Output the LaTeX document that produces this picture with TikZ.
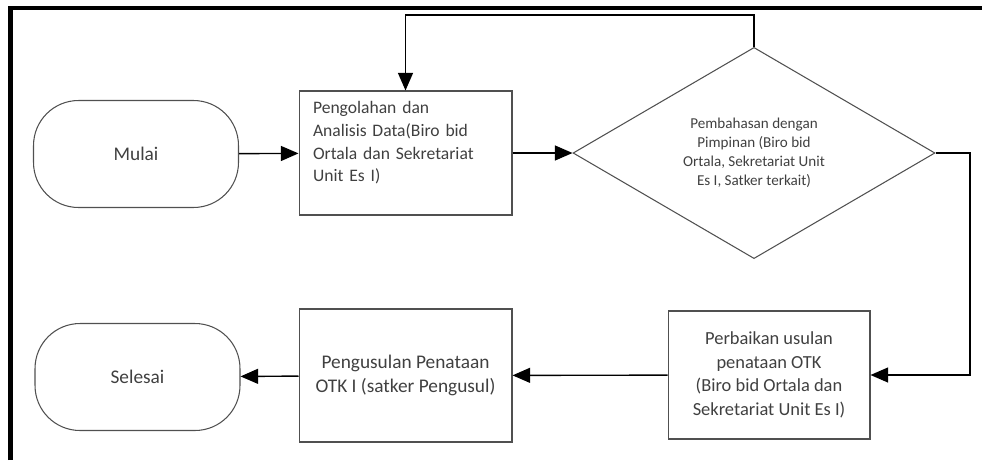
\documentclass[tikz,border=0pt]{standalone}
\usepackage{fontspec}
\setmainfont{Carlito}
\usepackage{tikz}
\usetikzlibrary{arrows.meta}
\usetikzlibrary{shapes.geometric,positioning}
\definecolor{garis}{RGB}{80,80,80}
\definecolor{teks}{RGB}{64,64,64}
\tikzset{
    % panah hitam antar langkah
    flowarrow/.style={
        line width=0.8pt,
        black,
        -{Triangle[length=10pt, width=8.5pt]}
    },
    % mulai / selesai
    terminal/.style={
        rectangle, rounded corners=0.9cm,
        draw=garis, line width=0.6pt,
        minimum width=4.1cm, minimum height=2.14cm,
        text=teks, font=\fontsize{11}{13}\selectfont
    },
    prosesbox/.style={
        rectangle, draw=garis, line width=0.6pt,
        text=teks, inner sep=0pt,
        font=\fontsize{10.5}{13.4}\selectfont
    },
    keputusan/.style={
        diamond, draw=garis, line width=0.6pt,
        minimum width=7.24cm, minimum height=4.18cm, inner sep=0pt,
        text=teks, align=center,
        font=\fontsize{8.6}{10.8}\selectfont
    }
}
\begin{document}
\begin{tikzpicture}[x=0.02cm,y=-0.02cm]
    \useasboundingbox (0,0) rectangle (982,460);
    \draw[line width=2.3pt] (10.5,460) -- (10.5,8) -- (982,8);

    \node[terminal] (mulai) at (136,154) {Mulai};
    \node[prosesbox, minimum width=4.26cm, minimum height=2.48cm,
          text width=3.7cm, align=left,
          font=\fontsize{10}{13}\selectfont] (olah) at (405.5,153)
        {Pengolahan dan\\ Analisis Data(Biro bid\\ Ortala dan Sekretariat\\ Unit Es I)\\ \mbox{}};
    \node[keputusan] (bahas) at (754,153)
        {Pembahasan dengan\\ Pimpinan (Biro bid\\ Ortala, Sekretariat Unit\\ Es I, Satker terkait)};
    \node[prosesbox, minimum width=4.04cm, minimum height=2.56cm,
          align=center] (baiki) at (769,375)
        {Perbaikan usulan\\ penataan OTK\\ (Biro bid Ortala dan\\ Sekretariat Unit Es I)};
    \node[prosesbox, minimum width=4.26cm, minimum height=2.66cm,
          align=center, font=\fontsize{11}{13.6}\selectfont] (usul) at (405.5,375.5)
        {Pengusulan Penataan\\ OTK I (satker Pengusul)};
    \node[terminal] (selesai) at (137.5,377) {Selesai};

    \coordinate (atas) at (754,15);
    \coordinate (kanan) at (970,153);

    \draw[flowarrow] (mulai) -- (olah);
    \draw[flowarrow] (olah) -- (bahas);
    \draw[flowarrow] (bahas.north) -- (atas) -| (olah.north);
    \draw[flowarrow] (bahas.east) -- (kanan) |- (baiki.east);
    \draw[flowarrow] (baiki) -- (usul);
    \draw[flowarrow] (usul) -- (selesai);
\end{tikzpicture}
\end{document}
